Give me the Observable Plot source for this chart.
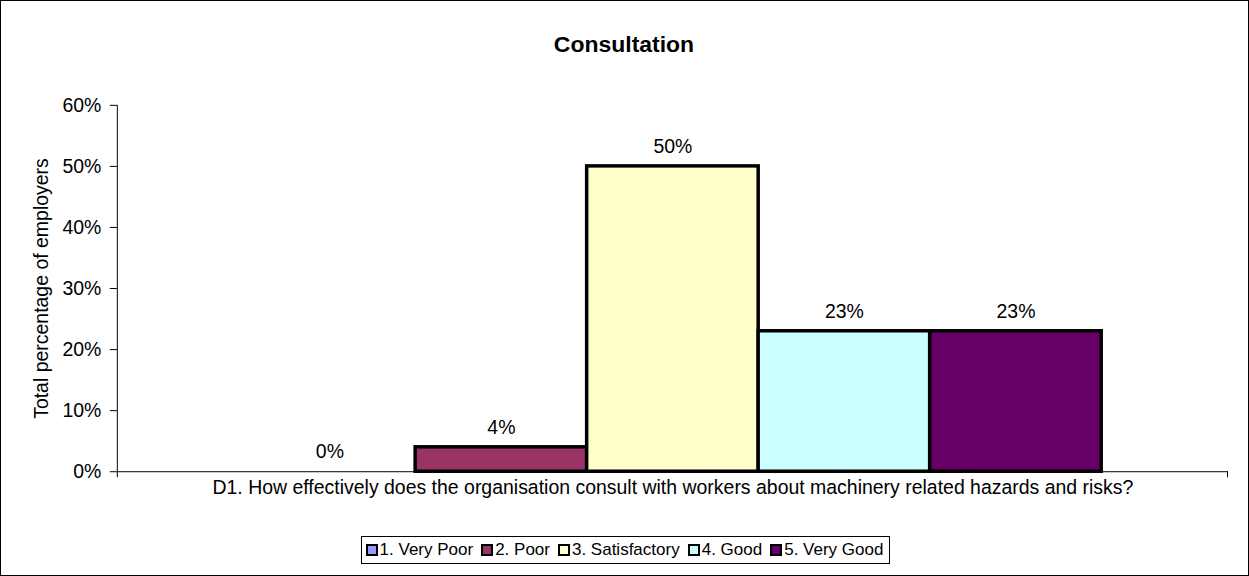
<!DOCTYPE html>
<html>
<head>
<meta charset="utf-8">
<script src="https://cdn.jsdelivr.net/npm/d3@7"></script>
<script src="https://cdn.jsdelivr.net/npm/@observablehq/plot@0.6"></script>
<style>
  html, body { margin: 0; padding: 0; background: #fff; }
  #wrap { position: relative; width: 1249px; height: 576px; box-sizing: border-box; border: 1px solid #000; overflow: hidden; font-family: "Liberation Sans", Arial, sans-serif; }
  #wrap svg { position: absolute; left: -1px; top: -1px; }
  #legend { position: absolute; top: 535px; left: 0; width: 1249px; display: flex; justify-content: center; }
  #legend .box { border: 1px solid #000; display: flex; align-items: center; padding: 3px 6px 3px 4px; font-size: 17px; color: #000; background: #fff; }
  #legend .item { display: flex; align-items: center; margin-right: 8px; }
  #legend .item:last-child { margin-right: 0; }
  #legend .sw { width: 12px; height: 12px; box-sizing: border-box; border: 2.5px solid #000; margin-right: 2px; }
</style>
</head>
<body>
<div id="wrap"></div>
<script>
// ---- data ----
const categories = ["1. Very Poor", "2. Poor", "3. Satisfactory", "4. Good", "5. Very Good"];
const values = [0, 4, 50, 23, 23];
const colors = ["#9999FF", "#993366", "#FFFFCC", "#CCFFFF", "#660066"];
const yTicks = [0, 10, 20, 30, 40, 50, 60];
const chartTitle = "Consultation";
const yLabel = "Total percentage of employers";
const xLabel = "D1. How effectively does the organisation consult with workers about machinery related hazards and risks?";

const rows = categories.map((c, i) => ({name: c, value: values[i], color: colors[i]}));
const pct = d => d + "%";

const W = 1249, H = 576;
const mL = 117, mR = 19, mT = 105, mB = 104;

const chart = Plot.plot({
  width: W,
  height: H,
  marginLeft: mL,
  marginRight: mR,
  marginTop: mT,
  marginBottom: mB,
  style: {fontFamily: "'Liberation Sans', Arial, sans-serif", fontSize: "19.5px", color: "#000", background: "transparent"},
  x: {type: "band", domain: categories, range: [244, 1103], padding: 0, round: false, axis: null},
  y: {domain: [0, 60], axis: null},
  marks: [
    Plot.axisY({ticks: yTicks, tickFormat: pct, tickSize: 7, tickPadding: 9, fontSize: 19.5, label: null}),
    Plot.ruleY([0], {stroke: "#000", strokeWidth: 1}),
    Plot.barY(rows.filter(d => d.value > 0), {x: "name", y: "value", fill: "color", stroke: "#000", strokeWidth: 3.5}),
    Plot.text(rows, {x: "name", y: "value", text: d => pct(d.value), dy: -20, fontSize: 19.5, fill: "#000"}),
    Plot.text([chartTitle], {frameAnchor: "top", textAnchor: "middle", dx: -49, dy: -70, fontSize: 23, fontWeight: "bold", fill: "#000"}),
    Plot.text([xLabel], {frameAnchor: "bottom", textAnchor: "middle", dy: 22, fontSize: 19.5, fill: "#000"}),
    Plot.text([yLabel], {frameAnchor: "left", textAnchor: "middle", rotate: -90, dx: -76, fontSize: 19.5, fill: "#000"})
  ]
});

// axis lines and category-axis end ticks, placed with the chart's own scales
const ys = chart.scale("y");
const svg = d3.select(chart);
const y0 = ys.apply(0), yTop = ys.apply(60);
const axisG = svg.append("g").attr("stroke", "#000").attr("stroke-width", 1);
axisG.append("line").attr("x1", mL + 0.5).attr("x2", mL + 0.5).attr("y1", yTop).attr("y2", y0 + 6);
axisG.append("line").attr("x1", W - mR - 0.5).attr("x2", W - mR - 0.5).attr("y1", y0).attr("y2", y0 + 6);

document.getElementById("wrap").appendChild(chart);

// legend
const legend = document.createElement("div");
legend.id = "legend";
const box = document.createElement("div");
box.className = "box";
categories.forEach((c, i) => {
  const it = document.createElement("div");
  it.className = "item";
  const sw = document.createElement("span");
  sw.className = "sw";
  sw.style.background = colors[i];
  const t = document.createElement("span");
  t.textContent = c;
  it.appendChild(sw);
  it.appendChild(t);
  box.appendChild(it);
});
legend.appendChild(box);
document.getElementById("wrap").appendChild(legend);
</script>
</body>
</html>
